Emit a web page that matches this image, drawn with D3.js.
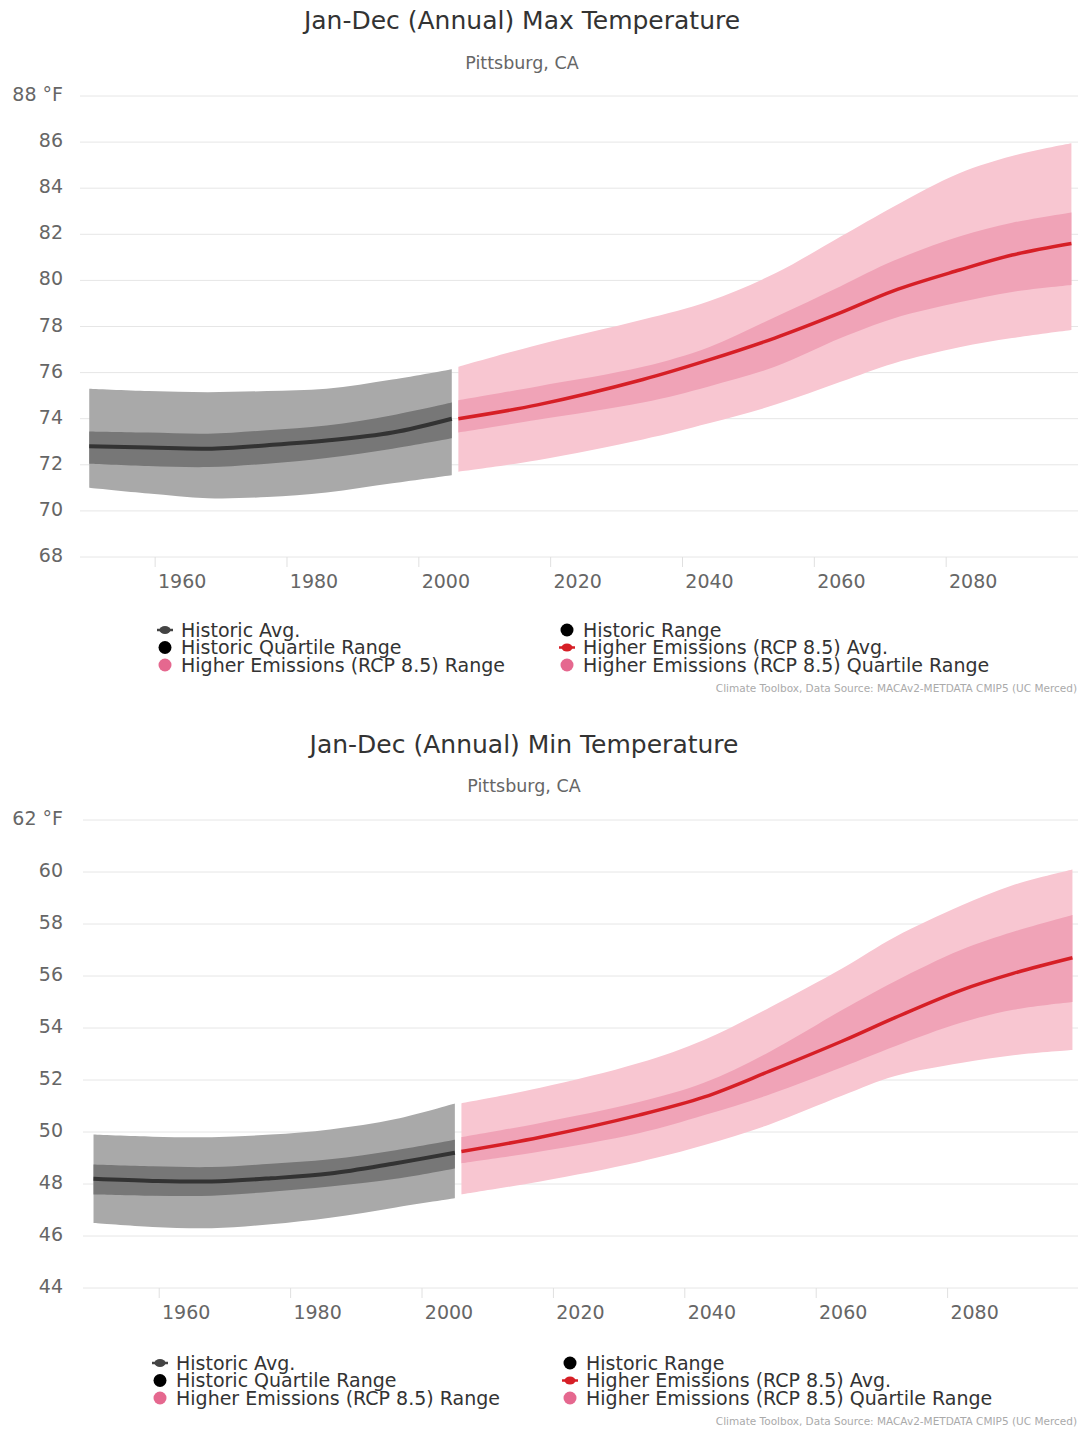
<!DOCTYPE html>
<html>
<head>
<meta charset="utf-8">
<script src="https://cdn.jsdelivr.net/npm/d3@7"></script>
<style>
  body { margin: 0; background: #fff; }
  text { font-family: "DejaVu Sans", sans-serif; }
</style>
</head>
<body>
<div id="chart"></div>
<script>
// ---- data ----
const xTicks = [1960, 1980, 2000, 2020, 2040, 2060, 2080];

// Max temperature
const maxYTicks = [68, 70, 72, 74, 76, 78, 80, 82, 84, 86, 88];
const maxHistYears = [1950, 1959, 1968, 1977, 1986, 1996, 2005];
const maxHistRangeLow = [71.0, 70.75, 70.55, 70.6, 70.8, 71.2, 71.55];
const maxHistQuartLow = [72.05, 71.95, 71.9, 72.05, 72.3, 72.7, 73.15];
const maxHistAvg = [72.8, 72.75, 72.7, 72.85, 73.05, 73.4, 74.0];
const maxHistQuartHigh = [73.45, 73.4, 73.35, 73.5, 73.7, 74.15, 74.7];
const maxHistRangeHigh = [75.3, 75.2, 75.15, 75.2, 75.3, 75.7, 76.15];
const maxFutYears = [2006, 2018, 2034, 2044, 2054, 2064, 2072, 2082, 2090, 2099];
const maxFutRangeLow = [71.7, 72.2, 73.1, 73.8, 74.6, 75.6, 76.4, 77.1, 77.5, 77.85];
const maxFutQuartLow = [73.4, 73.95, 74.7, 75.4, 76.25, 77.5, 78.35, 79.05, 79.5, 79.8];
const maxFutAvg = [74.0, 74.6, 75.7, 76.55, 77.5, 78.6, 79.55, 80.45, 81.1, 81.6];
const maxFutQuartHigh = [74.8, 75.4, 76.25, 77.1, 78.4, 79.75, 80.85, 81.9, 82.5, 82.95];
const maxFutRangeHigh = [76.25, 77.2, 78.3, 79.1, 80.3, 81.9, 83.2, 84.65, 85.4, 85.95];

// Min temperature
const minYTicks = [44, 46, 48, 50, 52, 54, 56, 58, 60, 62];
const minHistYears = [1950, 1959, 1968, 1977, 1986, 1996, 2005];
const minHistRangeLow = [46.5, 46.35, 46.3, 46.45, 46.7, 47.1, 47.45];
const minHistQuartLow = [47.6, 47.55, 47.55, 47.7, 47.9, 48.2, 48.6];
const minHistAvg = [48.2, 48.12, 48.1, 48.22, 48.4, 48.8, 49.2];
const minHistQuartHigh = [48.75, 48.68, 48.65, 48.78, 48.95, 49.3, 49.7];
const minHistRangeHigh = [49.9, 49.82, 49.8, 49.9, 50.1, 50.5, 51.1];
const minFutYears = [2006, 2018, 2033, 2043, 2053, 2064, 2072, 2082, 2090, 2099];
const minFutRangeLow = [47.6, 48.1, 48.85, 49.5, 50.3, 51.4, 52.15, 52.65, 52.95, 53.15];
const minFutQuartLow = [48.8, 49.25, 49.95, 50.65, 51.45, 52.5, 53.3, 54.2, 54.7, 55.0];
const minFutAvg = [49.25, 49.8, 50.65, 51.35, 52.35, 53.5, 54.4, 55.45, 56.1, 56.7];
const minFutQuartHigh = [49.8, 50.35, 51.15, 51.9, 53.1, 54.7, 55.8, 57.0, 57.7, 58.35];
const minFutRangeHigh = [51.1, 51.7, 52.65, 53.55, 54.8, 56.3, 57.5, 58.7, 59.5, 60.1];

const legendLeft = ["Historic Avg.", "Historic Quartile Range", "Higher Emissions (RCP 8.5) Range"];
const legendRight = ["Historic Range", "Higher Emissions (RCP 8.5) Avg.", "Higher Emissions (RCP 8.5) Quartile Range"];
const credits = "Climate Toolbox, Data Source: MACAv2-METDATA CMIP5 (UC Merced)";

const colors = {
  histRange: "#a9a9a9", histQuart: "#777777", histLine: "#333333",
  futRange: "#f8c6d1", futQuart: "#f0a3b7", futLine: "#d61f26",
  legendPink: "#e5688f"
};

const svg = d3.select("#chart")
  .append("svg")
    .attr("width", 1078)
    .attr("height", 1431);

function zipRows(years, lo, qlo, avg, qhi, hi) {
  return years.map((yr, i) => ({year: yr, lo: lo[i], qlo: qlo[i], avg: avg[i], qhi: qhi[i], hi: hi[i]}));
}

function drawChart(cfg) {
  const g = svg.append("g");

  const x = d3.scaleLinear().domain(cfg.xDomain).range(cfg.xRange);
  const y = d3.scaleLinear().domain(cfg.yDomain).range(cfg.yRange);

  // title + subtitle
  g.append("text")
    .attr("x", cfg.midX).attr("y", cfg.titleY)
    .attr("text-anchor", "middle")
    .style("font-size", "25px").style("fill", "#333")
    .text(cfg.title);
  g.append("text")
    .attr("x", cfg.midX).attr("y", cfg.subY)
    .attr("text-anchor", "middle")
    .style("font-size", "17.5px").style("fill", "#666")
    .text("Pittsburg, CA");

  // grid lines
  g.append("g")
    .selectAll("line")
    .data(cfg.yTicks)
    .join("line")
      .attr("x1", cfg.xRange[0]).attr("x2", 1078)
      .attr("y1", d => y(d)).attr("y2", d => y(d))
      .style("stroke", "#e6e6e6").style("stroke-width", 1);

  // y labels
  const top = d3.max(cfg.yTicks);
  g.append("g")
    .selectAll("text")
    .data(cfg.yTicks)
    .join("text")
      .attr("x", 63)
      .attr("y", d => y(d) + 5)
      .attr("text-anchor", "end")
      .style("font-size", "19px").style("fill", "#666")
      .text(d => d === top ? d + " °F" : d);

  // x axis ticks + labels
  const xa = g.append("g");
  xa.selectAll("line")
    .data(cfg.xTicks)
    .join("line")
      .attr("x1", d => x(d)).attr("x2", d => x(d))
      .attr("y1", cfg.yRange[0]).attr("y2", cfg.yRange[0] + 10)
      .style("stroke", "#e0e0e0");
  xa.selectAll("text")
    .data(cfg.xTicks)
    .join("text")
      .attr("x", d => x(d) + 27)
      .attr("y", cfg.yRange[0] + 31)
      .attr("text-anchor", "middle")
      .style("font-size", "19px").style("fill", "#666")
      .text(d => d);

  // bands and lines
  const curve = d3.curveCatmullRom.alpha(0.5);
  function band(data, k0, k1, color) {
    const area = d3.area()
      .x(d => x(d.year))
      .y0(d => y(d[k0]))
      .y1(d => y(d[k1]))
      .curve(curve);
    g.append("path").datum(data)
      .attr("d", area)
      .style("fill", color);
  }
  function line(data, color, w) {
    const ln = d3.line()
      .x(d => x(d.year))
      .y(d => y(d.avg))
      .curve(curve);
    g.append("path").datum(data)
      .attr("d", ln)
      .style("fill", "none")
      .style("stroke", color)
      .style("stroke-width", w);
  }

  band(cfg.hist, "lo", "hi", colors.histRange);
  band(cfg.hist, "qlo", "qhi", colors.histQuart);
  line(cfg.hist, colors.histLine, 4);

  band(cfg.fut, "lo", "hi", colors.futRange);
  band(cfg.fut, "qlo", "qhi", colors.futQuart);
  line(cfg.fut, colors.futLine, 3.5);

  // legend (rows sit tight, as in the original)
  const leg = g.append("g");
  const leftSym = ["line-dark", "dot-black", "dot-pink"];
  const rightSym = ["dot-black", "line-red", "dot-pink"];
  function legendItem(sx, tx, yy, sym, label) {
    if (sym.startsWith("line")) {
      const c = sym === "line-red" ? colors.futLine : "#444";
      leg.append("line")
        .attr("x1", sx - 8).attr("x2", sx + 8)
        .attr("y1", yy).attr("y2", yy)
        .style("stroke", c).style("stroke-width", 2.5);
      leg.append("ellipse")
        .attr("cx", sx).attr("cy", yy)
        .attr("rx", 5.5).attr("ry", 4)
        .style("fill", c);
    } else {
      leg.append("circle")
        .attr("cx", sx).attr("cy", yy).attr("r", 6.5)
        .style("fill", sym === "dot-pink" ? colors.legendPink : "#000");
    }
    leg.append("text")
      .attr("x", tx).attr("y", yy + 6.5)
      .style("font-size", "19px").style("fill", "#333")
      .text(label);
  }
  legendLeft.forEach((lab, i) => legendItem(cfg.legLeftX, cfg.legLeftX + 16, cfg.legY + i * 17.5, leftSym[i], lab));
  legendRight.forEach((lab, i) => legendItem(cfg.legRightX, cfg.legRightX + 16, cfg.legY + i * 17.5, rightSym[i], lab));

  g.append("text")
    .attr("x", 1077).attr("y", cfg.creditY)
    .attr("text-anchor", "end")
    .style("font-size", "10.5px").style("fill", "#aaa")
    .text(credits);
}

drawChart({
  title: "Jan-Dec (Annual) Max Temperature",
  midX: 522, titleY: 29, subY: 69,
  xDomain: [1948.6, 2100], xRange: [80, 1078],
  yDomain: [68, 88], yRange: [557, 96],
  yTicks: maxYTicks, xTicks: xTicks,
  hist: zipRows(maxHistYears, maxHistRangeLow, maxHistQuartLow, maxHistAvg, maxHistQuartHigh, maxHistRangeHigh),
  fut: zipRows(maxFutYears, maxFutRangeLow, maxFutQuartLow, maxFutAvg, maxFutQuartHigh, maxFutRangeHigh),
  legY: 630, legLeftX: 165, legRightX: 567,
  creditY: 692
});

drawChart({
  title: "Jan-Dec (Annual) Min Temperature",
  midX: 524, titleY: 753, subY: 792,
  xDomain: [1948.4, 2100], xRange: [83, 1079],
  yDomain: [44, 62], yRange: [1288, 820],
  yTicks: minYTicks, xTicks: xTicks,
  hist: zipRows(minHistYears, minHistRangeLow, minHistQuartLow, minHistAvg, minHistQuartHigh, minHistRangeHigh),
  fut: zipRows(minFutYears, minFutRangeLow, minFutQuartLow, minFutAvg, minFutQuartHigh, minFutRangeHigh),
  legY: 1363, legLeftX: 160, legRightX: 570,
  creditY: 1425
});
</script>
</body>
</html>
